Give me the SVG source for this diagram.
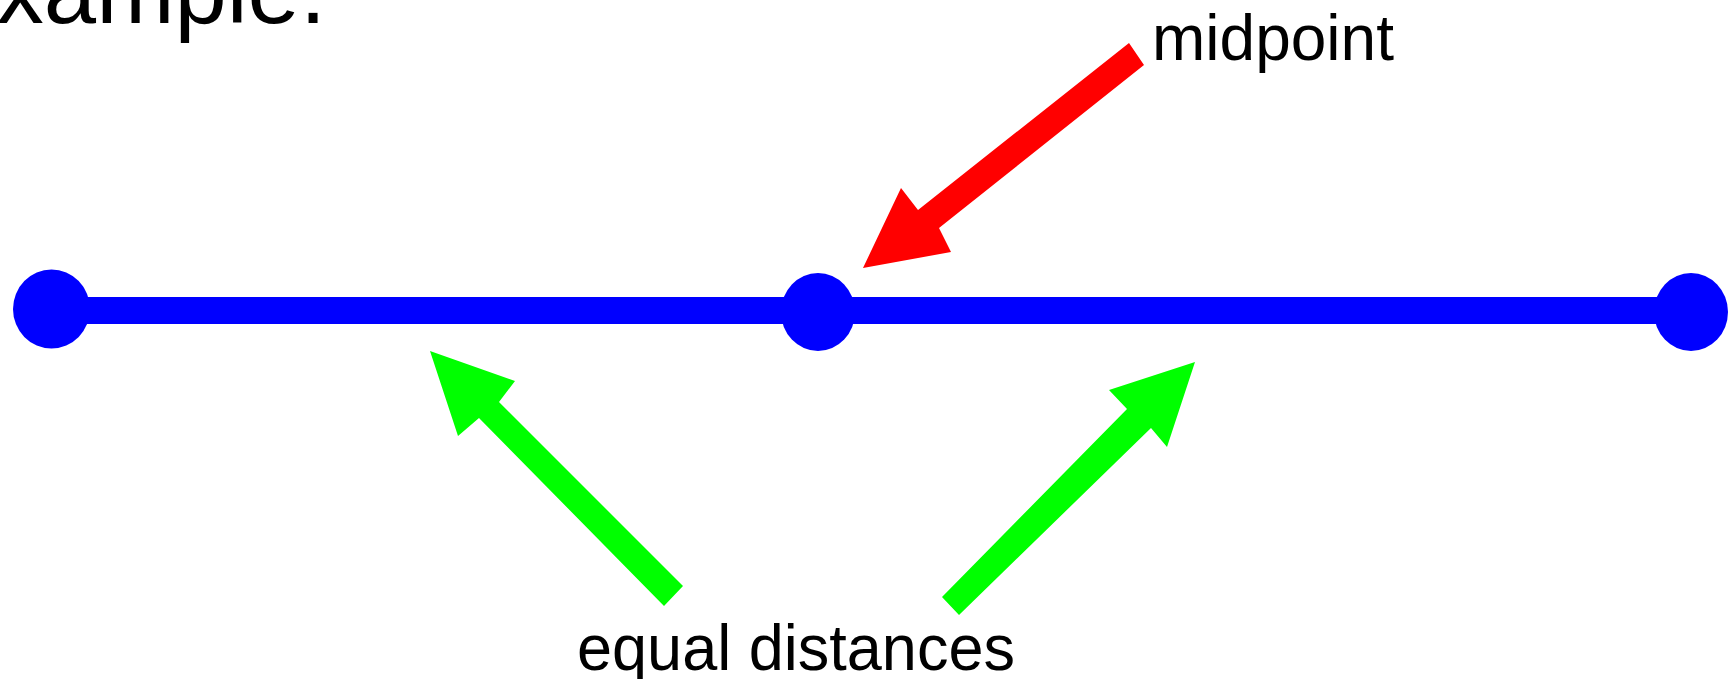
<svg xmlns="http://www.w3.org/2000/svg" width="1730" height="679" viewBox="0 0 1730 679">
  <style>
    .lbl { font-family: "Liberation Sans", Arial, sans-serif; fill: #000; }
    .pt { fill: #0000ff; }
    .seg { stroke: #0000ff; stroke-width: 27; fill: none; }
    .red { fill: #ff0000; }
    .green { fill: #00ff00; }
  </style>
  <rect width="1730" height="679" fill="#ffffff"/>
  <g id="caption">
    <text class="lbl" x="326" y="23" font-size="94" text-anchor="end">xample.</text>
  </g>
  <g id="connectors">
    <line class="seg" x1="51" y1="310.5" x2="1691" y2="310.5"/>
  </g>
  <g id="endpoint-left">
    <ellipse class="pt" cx="51.5" cy="309" rx="38.5" ry="39.5"/>
  </g>
  <g id="midpoint-node">
    <ellipse class="pt" cx="818" cy="312" rx="37" ry="39"/>
  </g>
  <g id="endpoint-right">
    <ellipse class="pt" cx="1691" cy="312" rx="37" ry="39"/>
  </g>
  <g id="arrow-midpoint">
    <polygon class="red" points="863,268 901,188 918,210 1129,43 1144,65 939,228 951,252"/>
  </g>
  <g id="arrow-left">
    <polygon class="green" points="430,351 515,381 499,402 683,586 664,606 479,418 458,436"/>
  </g>
  <g id="arrow-right">
    <polygon class="green" points="1195,362 1167,447 1151,428 959,615 942,597 1127,409 1109,390"/>
  </g>
  <g id="label-midpoint">
    <text class="lbl" x="1152" y="60" font-size="64">midpoint</text>
  </g>
  <g id="label-equal">
    <text class="lbl" x="577" y="670" font-size="64" textLength="438" lengthAdjust="spacingAndGlyphs">equal distances</text>
  </g>
</svg>
